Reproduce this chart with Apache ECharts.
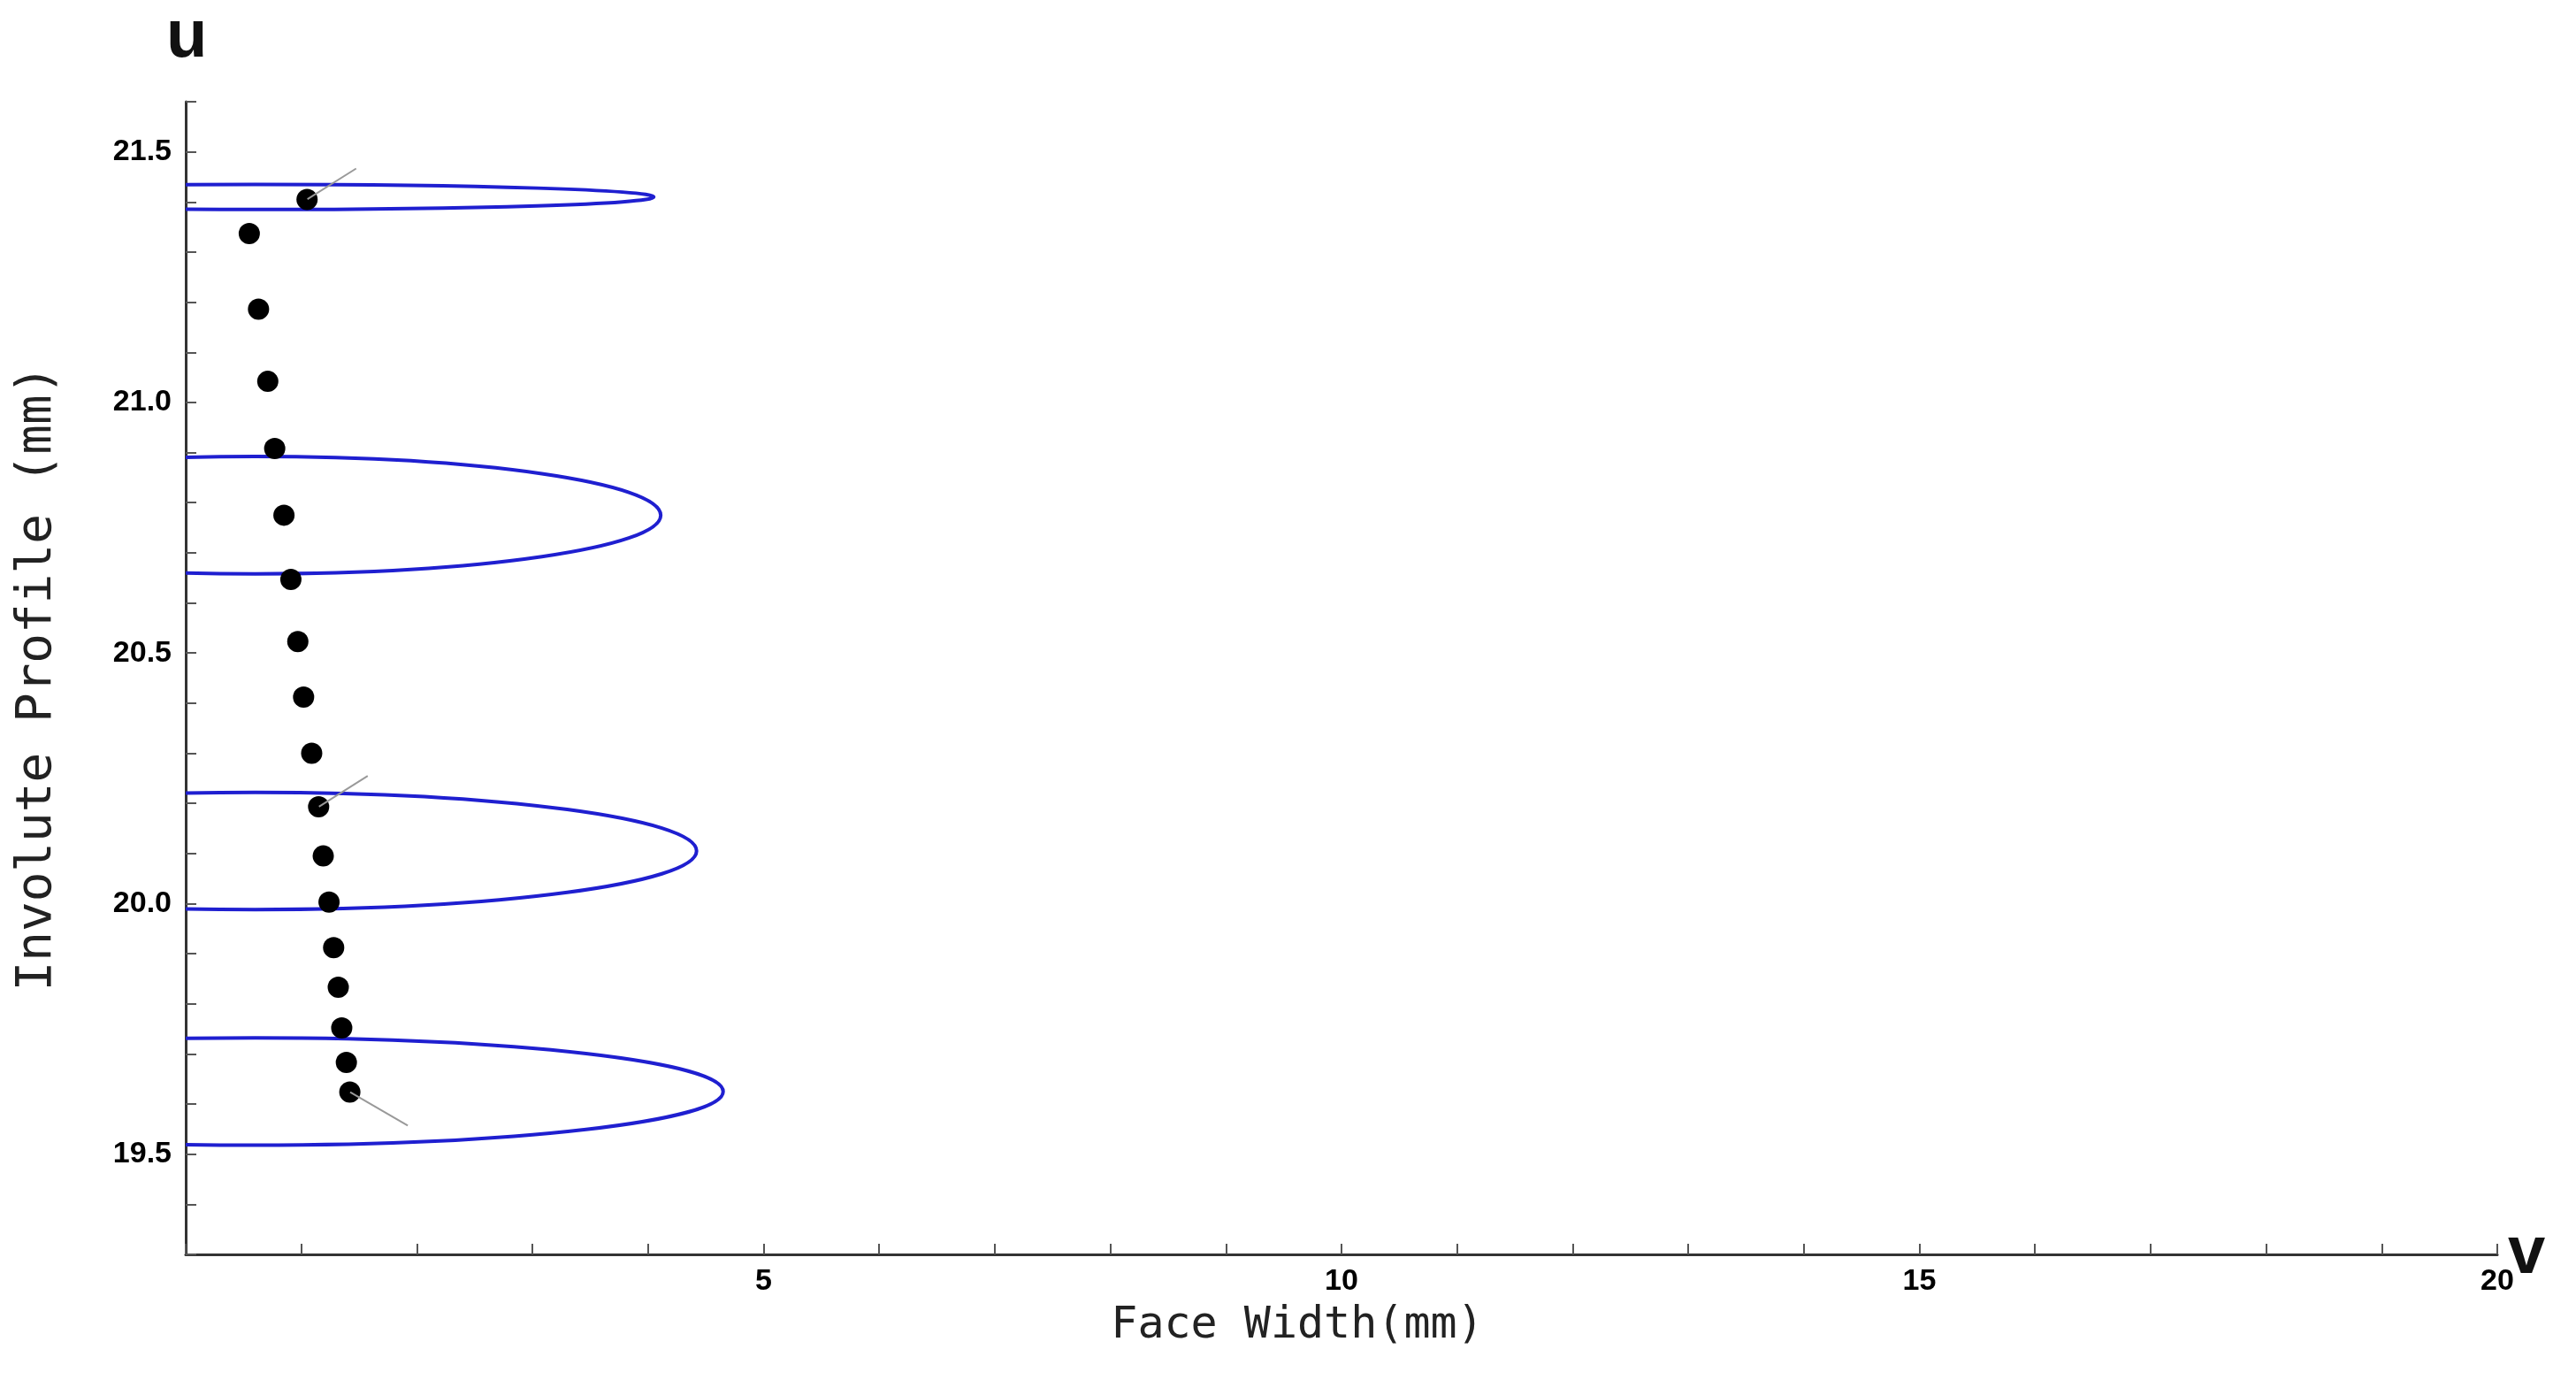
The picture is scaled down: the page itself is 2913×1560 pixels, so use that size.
<!DOCTYPE html>
<html><head><meta charset="utf-8">
<script src="https://cdn.jsdelivr.net/npm/echarts@6/dist/echarts.min.js"></script>
<style>html,body{margin:0;padding:0;background:#fff}#c{width:2913px;height:1560px}</style>
</head><body><div id="c"></div>
<script>
const dotV = [1.05,0.55,0.63,0.71,0.77,0.85,0.91,0.97,1.02,1.09,1.15,1.19,1.24,1.28,1.32,1.35,1.39,1.42];
const dotU = [21.405,21.337,21.186,21.042,20.908,20.775,20.647,20.523,20.412,20.30,20.193,20.095,20.003,19.912,19.833,19.752,19.683,19.624];
// ellipses: centre v, centre u, half-width (v), half-height (u)
const ellCV = [0.6,0.6,0.6,0.6];
const ellCU = [21.41,20.775,20.105,19.625];
const ellRV = [3.45,3.51,3.82,4.05];
const ellRU = [0.025,0.117,0.117,0.107];
const labelText = ['35.5 MPR','6.52 MPR','3.11 MRP'];
const labelIdx = [0,10,17];
const labelDx = [55,55,65];
const labelDy = [-35,-35,38];
const xLabelVals = [5,10,15,20];
const yLabelVals = [19.5,20.0,20.5,21.0,21.5];
const xTickVals = [];for(let i=0;i<=20;i++)xTickVals.push(i);
const yTickVals = [19.3,19.4,19.5,19.6,19.7,19.8,19.9,20.0,20.1,20.2,20.3,20.4,20.5,20.6,20.7,20.8,20.9,21.0,21.1,21.2,21.3,21.4,21.5,21.6];

const chart = echarts.init(document.getElementById('c'));
const lblFont = {fontFamily:'Liberation Sans',fontWeight:'bold',fontSize:34,color:'#000'};
chart.setOption({
  animation:false,
  grid:{left:210,right:89,top:115,bottom:142},
  xAxis:{type:'value',min:0,max:20,
    axisLine:{lineStyle:{color:'#333',width:3}},
    axisTick:{inside:true,length:12,lineStyle:{color:'#555',width:2},customValues:xTickVals},
    axisLabel:Object.assign({customValues:xLabelVals,margin:14,formatter:v=>String(v)},lblFont),
    splitLine:{show:false},
    name:'Face Width(mm)',nameLocation:'middle',nameGap:56,
    nameTextStyle:{fontFamily:'DejaVu Sans Mono',fontSize:50,color:'#222',padding:[0,0,0,-100]}},
  yAxis:{type:'value',min:19.3,max:21.6,
    axisLine:{lineStyle:{color:'#333',width:3}},
    axisTick:{inside:true,length:12,lineStyle:{color:'#555',width:2},customValues:yTickVals},
    axisLabel:Object.assign({customValues:yLabelVals,margin:16,formatter:v=>v.toFixed(1)},lblFont),
    splitLine:{show:false},
    name:'Involute Profile (mm)',nameLocation:'middle',nameGap:140,nameRotate:90,
    nameTextStyle:{fontFamily:'DejaVu Sans Mono',fontSize:56,color:'#222'}},
  graphic:[
    {type:'text',left:188,top:5,style:{text:'u',font:'bold 76px Liberation Sans',fill:'#111'}},
    {type:'text',left:2836,top:1380,style:{text:'v',font:'bold 76px Liberation Sans',fill:'#111'}}
  ],
  series:[
    {type:'custom',clip:true,
      data:ellCV.map((v,i)=>[v,ellCU[i],ellRV[i],ellRU[i]]),
      renderItem:(params,api)=>{
        const c=api.coord([api.value(0),api.value(1)]);
        const s=api.size([api.value(2),api.value(3)]);
        return {type:'ellipse',shape:{cx:c[0],cy:c[1],rx:s[0],ry:s[1]},
          style:{fill:'none',stroke:'#1f1fd0',lineWidth:4}};
      }},
    {type:'scatter',symbolSize:24,itemStyle:{color:'#000',opacity:1},
      data:dotV.map((v,i)=>[v,dotU[i]])},
    {type:'scatter',symbolSize:1,itemStyle:{opacity:0},z:5,
      data:labelIdx.map((k,i)=>({value:[dotV[k],dotU[k]]})),
      label:{show:true,formatter:p=>labelText[p.dataIndex],position:'right',distance:0,
        fontFamily:'Liberation Sans',fontWeight:'bold',fontSize:42,color:'#111'},
      labelLayout:p=>({dx:labelDx[p.dataIndex],dy:labelDy[p.dataIndex]}),
      labelLine:{show:true,lineStyle:{color:'#999',width:2},smooth:0.4}}
  ]
});
</script></body></html>
